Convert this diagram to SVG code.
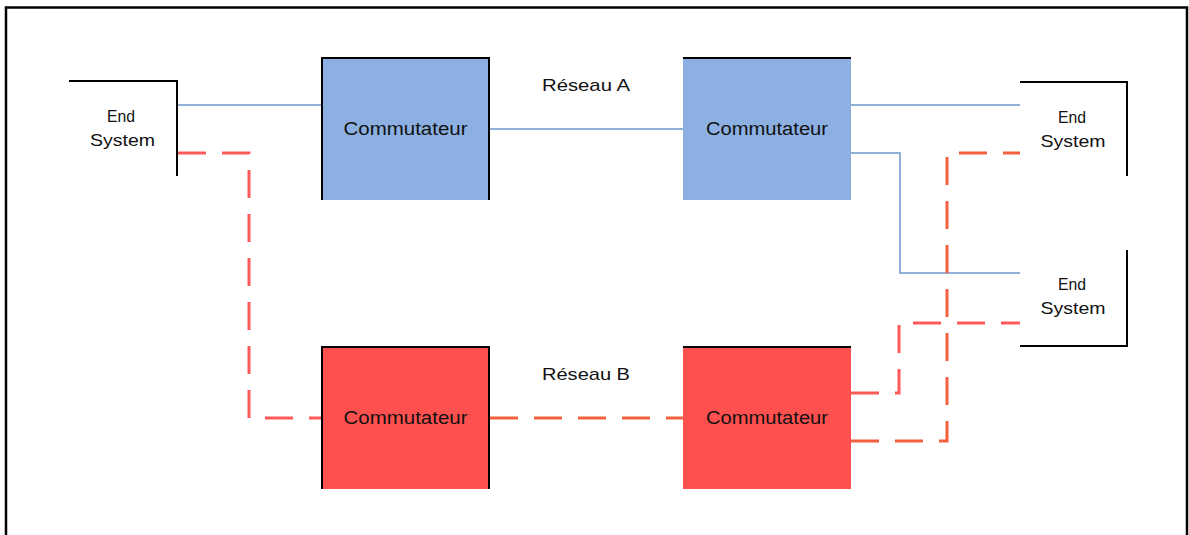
<svg xmlns="http://www.w3.org/2000/svg" width="1189" height="535" viewBox="0 0 1189 535">
<style>
.bg{fill:#ffffff}
.frame{fill:none;stroke:#000;stroke-width:2.5}
.bracket{fill:none;stroke:#000;stroke-width:2}
.edge{fill:none;stroke:#000;stroke-width:2}
.blue{fill:#8db0e3}
.red{fill:#ff5050}
.lb{fill:none;stroke:#92afd8;stroke-width:2}
.lr{fill:none;stroke:#ff5a5a;stroke-width:3;stroke-dasharray:28 16}
.lo{fill:none;stroke:#f3603e;stroke-width:3;stroke-dasharray:28 16}
text{font-family:"Liberation Sans",Arial,sans-serif;fill:#111;text-anchor:middle}
.t{font-size:18px}
.s{font-size:17px}
</style>
<rect class="bg" x="0" y="0" width="1189" height="535"/>
<rect class="frame" x="6" y="7.5" width="1181" height="560"/>

<g id="connectors">
  <path class="lb" d="M178 105 H321"/>
  <path class="lb" d="M490 129 H683"/>
  <path class="lb" d="M851 105 H1020"/>
  <path class="lb" d="M851 153 H900 V273 H1020"/>
  <path class="lr" d="M178 153 H249 V418 H321"/>
  <path class="lo" d="M490 418 H683"/>
  <path class="lr" d="M851 393 H899 V323 H1020"/>
  <path class="lo" d="M851 441 H947 V153 H1020"/>
</g>

<g id="es-left">
  <path class="bracket" d="M69 81 H177 V176"/>
  <text x="121" y="122" font-size="17" textLength="28" lengthAdjust="spacingAndGlyphs">End</text>
  <text x="122.5" y="146" font-size="17" textLength="65" lengthAdjust="spacingAndGlyphs">System</text>
</g>

<g id="es-right-top">
  <path class="bracket" d="M1020 82 H1127 V176"/>
  <text x="1072" y="123" font-size="17" textLength="28" lengthAdjust="spacingAndGlyphs">End</text>
  <text x="1073" y="147" font-size="17" textLength="65" lengthAdjust="spacingAndGlyphs">System</text>
</g>

<g id="es-right-bottom">
  <path class="bracket" d="M1127 250 V346 H1020"/>
  <text x="1072" y="290" font-size="17" textLength="28" lengthAdjust="spacingAndGlyphs">End</text>
  <text x="1073" y="314" font-size="17" textLength="65" lengthAdjust="spacingAndGlyphs">System</text>
</g>

<g id="switch-a1">
  <rect class="blue" x="321" y="57" width="169" height="143"/>
  <path class="edge" d="M322 200 V58 H489 V200"/>
  <text class="t" x="405.5" y="135" textLength="124" lengthAdjust="spacingAndGlyphs">Commutateur</text>
</g>

<g id="switch-a2">
  <rect class="blue" x="683" y="57" width="168" height="143"/>
  <path class="edge" d="M683 58 H851"/>
  <text class="t" x="767" y="135" textLength="122" lengthAdjust="spacingAndGlyphs">Commutateur</text>
</g>

<g id="switch-b1">
  <rect class="red" x="321" y="346" width="169" height="143"/>
  <path class="edge" d="M322 489 V347 H489 V489"/>
  <text class="t" x="405.5" y="424" textLength="124" lengthAdjust="spacingAndGlyphs">Commutateur</text>
</g>

<g id="switch-b2">
  <rect class="red" x="683" y="346" width="168" height="143"/>
  <path class="edge" d="M683 347 H851"/>
  <text class="t" x="767" y="424" textLength="122" lengthAdjust="spacingAndGlyphs">Commutateur</text>
</g>

<g id="labels">
  <text class="s" x="586" y="91" textLength="88" lengthAdjust="spacingAndGlyphs">Réseau A</text>
  <text class="s" x="586" y="380" textLength="88" lengthAdjust="spacingAndGlyphs">Réseau B</text>
</g>
</svg>
